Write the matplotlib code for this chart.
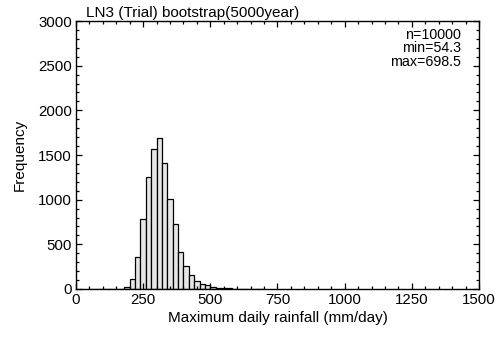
import numpy as np
import matplotlib
matplotlib.use("Agg")
from matplotlib import pyplot as plt
from matplotlib.ticker import MultipleLocator

# histogram of bootstrap results, bins of 20 mm/day
bin_left = [40, 60, 80, 100, 120, 140, 160, 180, 200, 220, 240, 260, 280, 300, 320, 340,
            360, 380, 400, 420, 440, 460, 480, 500, 520, 540, 560, 580, 600, 620,
            640, 660, 680]
counts = [1, 0, 0, 0, 0, 1, 5, 19, 112, 358, 787, 1254, 1563, 1687, 1407, 1004,
          724, 414, 261, 157, 86, 56, 41, 26, 15, 9, 6, 4, 3, 2, 1, 1, 1]
bin_width = 20

title = "LN3 (Trial) bootstrap(5000year)"
stats = ["n=10000", "min=54.3", "max=698.5"]

plt.rcParams['font.family'] = ['Liberation Sans', 'DejaVu Sans']
plt.rcParams['font.size'] = 10.8

fig = plt.figure(figsize=(4.96, 3.39), dpi=100)
ax = fig.add_axes([0.1532, 0.1475, 0.8125, 0.7905])

ax.bar(bin_left, counts, width=bin_width, align='edge', color='#e6e6e6',
       edgecolor='black', linewidth=0.9)

ax.set_xlim(0, 1500)
ax.set_ylim(0, 3000)
ax.xaxis.set_major_locator(MultipleLocator(250))
ax.xaxis.set_minor_locator(MultipleLocator(50))
ax.yaxis.set_major_locator(MultipleLocator(500))
ax.yaxis.set_minor_locator(MultipleLocator(100))
ax.tick_params(which='both', direction='in', top=True, right=True, width=0.9)
ax.tick_params(which='major', length=4, pad=3)
ax.tick_params(which='minor', length=2)
for s in ax.spines.values():
    s.set_linewidth(1.0)

ax.set_xlabel("Maximum daily rainfall (mm/day)", fontsize=11, labelpad=3)
ax.set_ylabel("Frequency", fontsize=11, labelpad=8)
ax.text(0.025, 1.005, title, transform=ax.transAxes, ha='left', va='bottom',
        fontsize=11)
ax.text(0.955, 0.975, "\n".join(stats), transform=ax.transAxes, ha='right', va='top',
        fontsize=10.3, linespacing=0.98)

fig.savefig("out.png", dpi=100)
